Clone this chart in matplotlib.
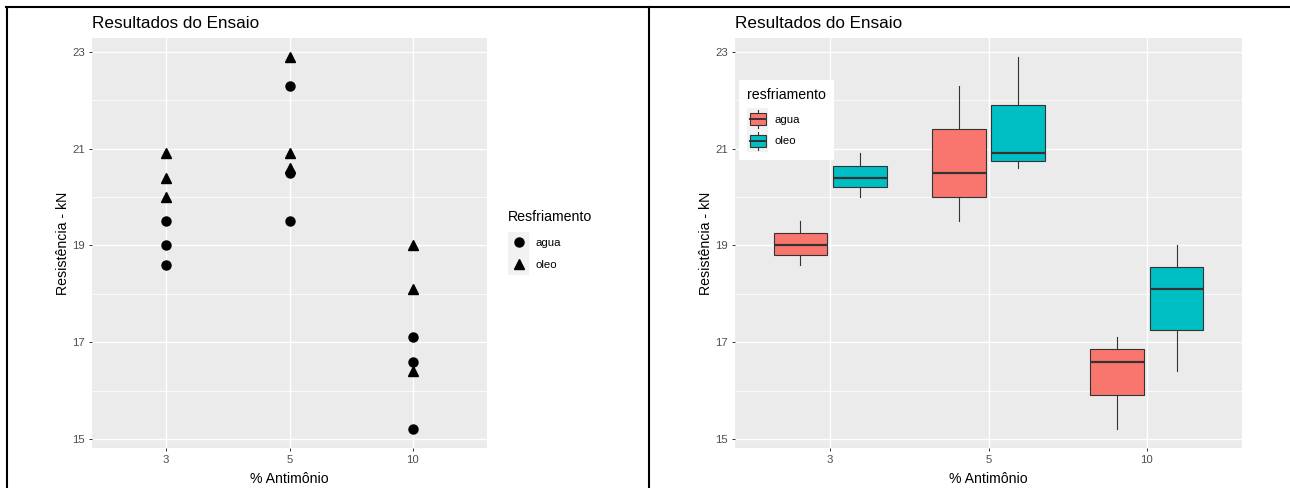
import numpy as np
import matplotlib
matplotlib.use("Agg")
import matplotlib.pyplot as plt
from matplotlib.legend_handler import HandlerBase
from matplotlib.patches import Rectangle
from matplotlib.lines import Line2D

plt.rcParams['font.family'] = ['Liberation Sans', 'DejaVu Sans']

#_________data__________________
antimonio = ['3', '5', '10']
agua = [[18.6, 19.0, 19.5], [19.5, 20.5, 22.3], [15.2, 16.6, 17.1]]
oleo = [[20.0, 20.4, 20.9], [20.6, 20.9, 22.9], [16.4, 18.1, 19.0]]
y_ticks = [15, 17, 19, 21, 23]
y_minor = [16, 18, 20, 22]
#_______________________________

PANEL = '#EBEBEB'
KEYBG = '#F2F2F2'
TXT = '#4D4D4D'
RED = '#F8766D'
CYAN = '#00BFC4'
EDGE = '#333333'

W, H = 1290, 488
fig = plt.figure(figsize=(W / 100, H / 100), dpi=100)


def px_axes(x0, x1, y0, y1):
    return fig.add_axes([x0 / W, 1 - y1 / H, (x1 - x0) / W, (y1 - y0) / H])


def style_axes(ax):
    ax.set_facecolor(PANEL)
    for s in ax.spines.values():
        s.set_visible(False)
    ax.set_xlim(-0.6, 2.6)
    ax.set_ylim(14.815, 23.285)
    ax.set_xticks(range(len(antimonio)))
    ax.set_xticklabels(antimonio)
    ax.set_yticks(y_ticks)
    ax.set_yticks(y_minor, minor=True)
    ax.grid(which='major', color='white', linewidth=1.0)
    ax.grid(which='minor', axis='y', color='white', linewidth=0.55)
    ax.set_axisbelow(True)
    ax.tick_params(which='major', length=2.5, width=0.7, color=EDGE,
                   labelcolor=TXT, labelsize=8.2, pad=2.5)
    ax.tick_params(which='minor', length=0)
    ax.set_title('Resultados do Ensaio', loc='left', fontsize=12.3, pad=7, x=0.0)
    ax.set_xlabel('% Antimônio', fontsize=10.2, labelpad=5)
    ax.set_ylabel('Resistência - kN', fontsize=10.2, labelpad=2)


class KeyHandler(HandlerBase):
    def __init__(self, kind):
        super().__init__()
        self.kind = kind

    def create_artists(self, legend, orig_handle, xdescent, ydescent,
                       width, height, fontsize, trans):
        x0, y0 = -xdescent, -ydescent
        arts = [Rectangle((x0, y0), width, height, facecolor=KEYBG,
                          edgecolor='none', transform=trans)]
        cx, cy = x0 + width / 2, y0 + height / 2
        if self.kind == 'box':
            fc = orig_handle.get_facecolor()
            arts.append(Line2D([cx, cx], [y0 + height * 0.08, y0 + height * 0.92],
                               color=EDGE, linewidth=0.8, transform=trans))
            arts.append(Rectangle((x0 + width * 0.12, y0 + height * 0.22),
                                  width * 0.76, height * 0.56, facecolor=fc,
                                  edgecolor=EDGE, linewidth=0.8, transform=trans))
            arts.append(Line2D([x0 + width * 0.12, x0 + width * 0.88], [cy, cy],
                               color=EDGE, linewidth=1.4, transform=trans))
        else:
            arts.append(Line2D([cx], [cy], marker=orig_handle.get_marker(),
                               markersize=orig_handle.get_markersize(),
                               color='black', linestyle='none', transform=trans))
        return arts


leg_style = dict(loc='upper left', fontsize=8.2, title_fontsize=10.2,
                 handlelength=1.85, handleheight=2.55, labelspacing=0,
                 handletextpad=0.55, borderaxespad=0, alignment='left')

#--------------left: pontos-------------------#
ax1 = px_axes(92, 487, 38, 448)
style_axes(ax1)
xpos = np.arange(len(antimonio))
for i in xpos:
    ax1.plot([i] * len(agua[i]), agua[i], 'o', color='black', markersize=6.5, zorder=3)
    ax1.plot([i] * len(oleo[i]), oleo[i], '^', color='black', markersize=7, zorder=3)

h_agua = Line2D([], [], marker='o', markersize=6.5, linestyle='none', color='black')
h_oleo = Line2D([], [], marker='^', markersize=7, linestyle='none', color='black')
leg1 = fig.legend([h_agua, h_oleo], ['agua', 'oleo'], title='Resfriamento',
                  bbox_to_anchor=(508 / W, 1 - 210 / H), frameon=False, borderpad=0,
                  handler_map={h_agua: KeyHandler('pt'), h_oleo: KeyHandler('pt')},
                  **leg_style)
leg1._legend_box.sep = 5.5

#--------------right: boxplot-------------------#
ax2 = px_axes(735, 1242, 38, 448)
style_axes(ax2)
bw = 0.3375
off = 0.1875
common = dict(widths=bw, patch_artist=True, showcaps=False, showfliers=False,
              whis=(0, 100), manage_ticks=False,
              boxprops=dict(edgecolor=EDGE, linewidth=0.8),
              whiskerprops=dict(color=EDGE, linewidth=0.8),
              medianprops=dict(color=EDGE, linewidth=1.6))
b1 = ax2.boxplot(agua, positions=xpos - off, **common)
b2 = ax2.boxplot(oleo, positions=xpos + off, **common)
for p in b1['boxes']:
    p.set_facecolor(RED)
for p in b2['boxes']:
    p.set_facecolor(CYAN)

k_agua = Rectangle((0, 0), 1, 1, facecolor=RED)
k_oleo = Rectangle((0, 0), 1, 1, facecolor=CYAN)
leg2 = fig.legend([k_agua, k_oleo], ['agua', 'oleo'], title='resfriamento',
                  bbox_to_anchor=(739 / W, 1 - 80 / H),
                  frameon=True, fancybox=False, facecolor='white', edgecolor='none',
                  framealpha=1, borderpad=0.7,
                  handler_map={k_agua: KeyHandler('box'), k_oleo: KeyHandler('box')},
                  **leg_style)
leg2._legend_box.sep = 4.5

#--------------borders-------------------#
lw = 1.5
fig.add_artist(Line2D([6 / W, 1], [1 - 7 / H, 1 - 7 / H], color='black', linewidth=lw))
fig.add_artist(Line2D([6.5 / W, 6.5 / W], [0, 1 - 7 / H], color='black', linewidth=lw))
fig.add_artist(Line2D([648.5 / W, 648.5 / W], [0, 1 - 7 / H], color='black', linewidth=lw))

fig.savefig('out.png', dpi=100)
